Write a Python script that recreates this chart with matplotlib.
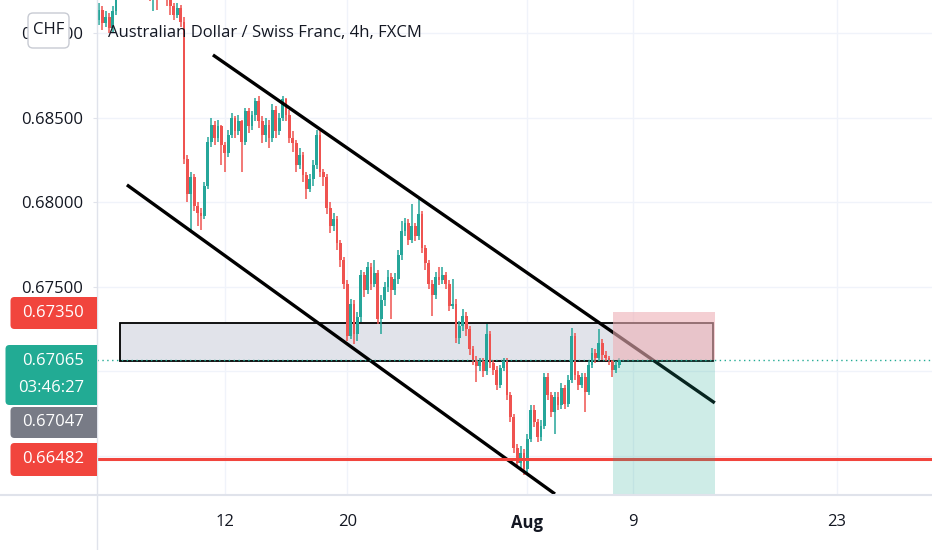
import numpy as np
import matplotlib
matplotlib.use('Agg')
import matplotlib.pyplot as plt
from matplotlib.patches import Rectangle, FancyBboxPatch
from matplotlib.lines import Line2D
from matplotlib.transforms import IdentityTransform

plt.rcParams['font.family'] = ['Open Sans', 'DejaVu Sans']
plt.rcParams['font.weight'] = 'medium'


### DATA (AUDCHF 4h; x is the 4h bar index, 12 Jul = 0)

title = 'Australian Dollar / Swiss Franc, 4h, FXCM'

first_bar = -37
first_open = 0.6908

closes = [
    0.6914, 0.6906, 0.6910, 0.6903, 0.6913, 0.6921, 0.6926, 0.6931, 0.6928, 0.6935,
    0.6940, 0.6936, 0.6932, 0.6938, 0.6930, 0.6921, 0.6926, 0.6924, 0.6928, 0.6925,
    0.6920, 0.6916, 0.6911, 0.6915, 0.6907, 0.6826,
    0.6805, 0.6815, 0.6798, 0.6794, 0.6792, 0.6810, 0.6836, 0.6846, 0.6838, 0.6845,
    0.6834, 0.6829, 0.6840, 0.6850, 0.6842, 0.6848, 0.6836, 0.6854, 0.6845, 0.6852,
    0.6860, 0.6848, 0.6840, 0.6846, 0.6838, 0.6855, 0.6842, 0.6850, 0.6861, 0.6852,
    0.6838, 0.6835, 0.6822, 0.6828, 0.6816, 0.6808, 0.6814, 0.6822, 0.6840, 0.6818,
    0.6815, 0.6797, 0.6786, 0.6790, 0.6776, 0.6766, 0.6752, 0.6721, 0.6740, 0.6722,
    0.6732, 0.6757, 0.6748, 0.6762, 0.6752, 0.6758, 0.6731, 0.6742, 0.6750, 0.6756,
    0.6748, 0.6755, 0.6769, 0.6783, 0.6788, 0.6778, 0.6786, 0.6780, 0.6793, 0.6773,
    0.6764, 0.6752, 0.6745, 0.6756, 0.6754, 0.6757, 0.6752, 0.6739, 0.6740, 0.6720,
    0.6727, 0.6733, 0.6725, 0.6713, 0.6707, 0.6703, 0.6706, 0.6700, 0.6722, 0.6705,
    0.6701, 0.6692, 0.6702, 0.6706, 0.6686, 0.6673, 0.6655, 0.6646, 0.6652, 0.6642,
    0.6660, 0.6677, 0.6670, 0.6661, 0.6668, 0.6697, 0.6686, 0.6676, 0.6685, 0.6680,
    0.6690, 0.6681, 0.6695, 0.6721, 0.6698, 0.6692, 0.6697, 0.6688, 0.6704, 0.6711,
    0.6708, 0.6717, 0.6710, 0.6708, 0.6706, 0.6701, 0.6704, 0.67065,
]

highs = [
    0.6918, 0.6916, 0.6913, 0.6912, 0.6916, 0.6925, 0.6930, 0.6935, 0.6934, 0.6938,
    0.6944, 0.6942, 0.6938, 0.6941, 0.6940, 0.6932, 0.6928, 0.6927, 0.6931, 0.6931,
    0.6927, 0.6923, 0.6918, 0.6918, 0.6917, 0.6910,
    0.6828, 0.6818, 0.6817, 0.6800, 0.6797, 0.6812, 0.6839, 0.6850, 0.6848, 0.6849,
    0.6846, 0.6836, 0.6843, 0.6853, 0.6851, 0.6852, 0.6849, 0.6856, 0.6856, 0.6854,
    0.6862, 0.6863, 0.6851, 0.6850, 0.6849, 0.6858, 0.6857, 0.6853, 0.6863, 0.6862,
    0.6855, 0.6842, 0.6837, 0.6832, 0.6830, 0.6818, 0.6817, 0.6825, 0.6843, 0.6842,
    0.6820, 0.6817, 0.6800, 0.6794, 0.6792, 0.6778, 0.6768, 0.6754, 0.6743, 0.6742,
    0.6735, 0.6760, 0.6759, 0.6765, 0.6764, 0.6766, 0.6760, 0.6745, 0.6753, 0.6760,
    0.6758, 0.6758, 0.6772, 0.6789, 0.6791, 0.6790, 0.6799, 0.6788, 0.6802, 0.6795,
    0.6775, 0.6766, 0.6754, 0.6759, 0.6762, 0.6762, 0.6759, 0.6754, 0.6755, 0.6743,
    0.6730, 0.6737, 0.6735, 0.6727, 0.6715, 0.6709, 0.6708, 0.6708, 0.6728, 0.6724,
    0.6707, 0.6703, 0.6704, 0.6708, 0.6708, 0.6688, 0.6675, 0.6657, 0.6656, 0.6654,
    0.6663, 0.6680, 0.6680, 0.6672, 0.6671, 0.6699, 0.6699, 0.6688, 0.6688, 0.6688,
    0.6693, 0.6692, 0.6698, 0.6726, 0.6723, 0.6700, 0.6699, 0.6699, 0.6706, 0.6714,
    0.6713, 0.6725, 0.6719, 0.6712, 0.6709, 0.6707, 0.6706, 0.6708,
]

lows = [
    0.6905, 0.6902, 0.6904, 0.6900, 0.6901, 0.6911, 0.6921, 0.6923, 0.6924, 0.6926,
    0.6932, 0.6932, 0.6928, 0.6929, 0.6926, 0.6919, 0.6913, 0.6914, 0.6921, 0.6922,
    0.6916, 0.6911, 0.6908, 0.6909, 0.6904, 0.6823,
    0.6800, 0.6783, 0.6795, 0.6786, 0.6784, 0.6790, 0.6808, 0.6833, 0.6834, 0.6836,
    0.6822, 0.6818, 0.6827, 0.6838, 0.6838, 0.6840, 0.6818, 0.6834, 0.6841, 0.6843,
    0.6848, 0.6844, 0.6835, 0.6836, 0.6832, 0.6836, 0.6838, 0.6840, 0.6848, 0.6848,
    0.6835, 0.6830, 0.6818, 0.6820, 0.6812, 0.6802, 0.6806, 0.6810, 0.6820, 0.6815,
    0.6810, 0.6793, 0.6782, 0.6783, 0.6772, 0.6762, 0.6749, 0.6718, 0.6719, 0.6716,
    0.6718, 0.6729, 0.6744, 0.6746, 0.6748, 0.6750, 0.6728, 0.6722, 0.6739, 0.6747,
    0.6731, 0.6745, 0.6752, 0.6766, 0.6780, 0.6775, 0.6776, 0.6777, 0.6778, 0.6770,
    0.6760, 0.6749, 0.6733, 0.6743, 0.6751, 0.6752, 0.6749, 0.6736, 0.6737, 0.6717,
    0.6716, 0.6724, 0.6721, 0.6710, 0.6704, 0.6694, 0.6700, 0.6697, 0.6698, 0.6702,
    0.6698, 0.6689, 0.6690, 0.6700, 0.6683, 0.6670, 0.6652, 0.6643, 0.6643, 0.6639,
    0.6640, 0.6658, 0.6667, 0.6658, 0.6659, 0.6666, 0.6683, 0.6673, 0.6663, 0.6677,
    0.6678, 0.6678, 0.6679, 0.6693, 0.6695, 0.6689, 0.6690, 0.6676, 0.6686, 0.6702,
    0.6705, 0.6706, 0.6707, 0.6706, 0.6704, 0.6697, 0.6699, 0.6702,
]

date_pos = [0, 36, 89, 120, 180]
date_labels = ['12', '20', 'Aug', '9', '23']
price_ticks = [0.665, 0.670, 0.675, 0.680, 0.685, 0.690]
price_labels = ['', '', '0.67500', '0.68000', '0.68500', '0.69000']  # lower two sit under the tags

zone_x = [-30.9, 143.5]
zone_y = [0.67062, 0.67287]
upper_x, upper_y = [-3.5, 144.1], [0.68873, 0.66814]
lower_x, lower_y = [-28.8, 97.1], [0.68104, 0.66275]

trade_x = [114.1, 144.1]
entry, stop, target = 0.67065, 0.67350, 0.6620
support = 0.66482
last_price = 0.67065
countdown = '03:46:27'
prev_price = 0.67047


### COLORS

teal = '#26a69a'
red = '#ef5350'
tag_red = '#f1453d'
tag_teal = '#22ab94'
tag_gray = '#787b86'
txt = '#131722'
grid = '#f0f3fa'
axis_line = '#e0e3eb'


### FIGURE

W, H = 932, 550
fig = plt.figure(figsize=(W / 100, H / 100), dpi=100)
ax = fig.add_axes([97 / W, 55 / H, 1 - 97 / W, 1 - 55 / H])
ax.set_xlim(-37.6, 208)
ax.set_ylim(0.66269, 0.69198)

for s in ax.spines.values():
    s.set_visible(False)

ax.set_yticks(price_ticks)
ax.set_yticklabels(price_labels)
ax.set_xticks(date_pos)
ax.set_xticklabels(date_labels)
ax.tick_params(axis='y', length=3, color=axis_line, pad=7, labelsize=12, labelcolor=txt)
ax.tick_params(axis='x', length=0, pad=14, labelsize=12, labelcolor=txt)
for lab in ax.get_xticklabels():
    if lab.get_text() == 'Aug':
        lab.set_fontweight('bold')
ax.grid(True, color=grid, lw=1)
ax.set_axisbelow(True)


### CANDLES

c = np.array(closes)
o = np.array([first_open] + closes[:-1])
idx = np.arange(first_bar, first_bar + len(closes))
cols = np.where(c >= o, teal, red)

ax.vlines(idx, lows, highs, colors=cols, lw=1.1, zorder=3)
ax.bar(idx, np.maximum(np.abs(c - o), 0.00003), bottom=np.minimum(o, c),
       width=0.8, color=cols, zorder=3)


### DRAWINGS

ax.add_patch(Rectangle((zone_x[0], zone_y[0]), zone_x[1] - zone_x[0], zone_y[1] - zone_y[0],
                       fc='#e1e3ea', ec='black', lw=1.3, zorder=2))

ax.plot(upper_x, upper_y, color='black', lw=2.4, solid_capstyle='butt', zorder=4)
ax.plot(lower_x, lower_y, color='black', lw=2.4, solid_capstyle='butt', zorder=4)

ax.axhline(support, color=tag_red, lw=2.2, zorder=4)

ax.add_patch(Rectangle((trade_x[0], entry), trade_x[1] - trade_x[0], stop - entry,
                       fc='#eeb0b6', alpha=0.6, ec='none', zorder=5))
ax.add_patch(Rectangle((trade_x[0], target), trade_x[1] - trade_x[0], entry - target,
                       fc=tag_teal, alpha=0.22, ec='none', zorder=5))

ax.axhline(last_price, color=tag_teal, lw=1, ls=(0, (1, 2.5)), zorder=6)


### AXIS FRAME, TITLE, BUTTON

fig.add_artist(Line2D([97, 97], [0, H], color=axis_line, lw=1, transform=IdentityTransform()))
fig.add_artist(Line2D([0, W], [H - 495, H - 495], color=axis_line, lw=1.5, transform=IdentityTransform()))

fig.text(108, H - 33, title, fontsize=12, color=txt, va='center', ha='left',
         transform=IdentityTransform())

chf = FancyBboxPatch((28, H - 48), 41, 35, boxstyle='round,pad=0,rounding_size=5',
                     fc='white', ec='#c8cbd3', lw=1, transform=IdentityTransform(), zorder=5)
fig.add_artist(chf)
fig.text(48.5, H - 30.5, 'CHF', fontsize=12, color=txt, ha='center', va='center',
         transform=IdentityTransform(), zorder=6)


### PRICE TAGS

def tag(y_top, y_bot, x_left, color, lines):
    box = FancyBboxPatch((x_left, H - y_bot), 97 - x_left, y_bot - y_top,
                         boxstyle='round,pad=0,rounding_size=4', fc=color, ec='none',
                         transform=IdentityTransform(), zorder=5)
    fig.add_artist(box)
    fig.add_artist(Rectangle((90, H - y_bot), 7, y_bot - y_top, fc=color, ec='none',
                             transform=IdentityTransform(), zorder=5))
    for text, y in lines:
        fig.text(84, H - y, text, fontsize=12, color='white', ha='right', va='center',
                 transform=IdentityTransform(), zorder=6)

tag(297, 329, 10.5, tag_red, [(f'{stop:.5f}', 313)])
tag(345, 405, 5.5, tag_teal, [(f'{last_price:.5f}', 361), (countdown, 388)])
tag(407, 438, 10.5, tag_gray, [(f'{prev_price:.5f}', 422)])
tag(443, 476, 10.5, tag_red, [(f'{support:.5f}', 459)])

fig.savefig('out.png', dpi=100)
